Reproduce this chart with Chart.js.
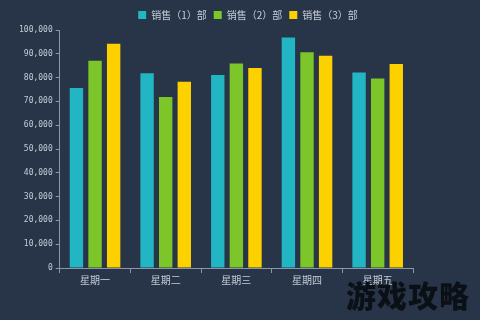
<!DOCTYPE html>
<html>
<head>
<meta charset="utf-8">
<script src="https://cdn.jsdelivr.net/npm/chart.js@4"></script>
<style>
    html, body { margin: 0; padding: 0; background: #283549; }
    .chart-block { position: relative; width: 480px; height: 320px; }
    .mark {
        position: absolute; left: 346px; top: 272px;
        font-family: "Noto Sans CJK SC"; font-weight: 900; font-size: 30px;
        color: #0b0f16; letter-spacing: 1px;
    }
</style>
</head>
<body>
<div class="chart-block">
    <canvas id="myChart" width="480" height="320"></canvas>
    <div class="mark">游戏攻略</div>
</div>
<script>
const days = ['星期一', '星期二', '星期三', '星期四', '星期五'];
const sales1 = [75600, 81800, 81100, 96900, 82100];
const sales2 = [87100, 71900, 85900, 90700, 79600];
const sales3 = [94200, 78300, 84000, 89200, 85700];
const yTicks = [0, 10000, 20000, 30000, 40000, 50000, 60000, 70000, 80000, 90000, 100000];

const ctx = document.getElementById('myChart').getContext('2d');
const axisColor = '#8b97a8';
const labelColor = '#c4ccd6';

const bar = (label, data, color) => ({
    label: label,
    data: data,
    backgroundColor: color,
    categoryPercentage: 0.79,
    barPercentage: 0.72
});

new Chart(ctx, {
    type: 'bar',
    data: {
        labels: days,
        datasets: [
            bar('销售（1）部', sales1, '#22b5c4'),
            bar('销售（2）部', sales2, '#7dc62a'),
            bar('销售（3）部', sales3, '#fdd000')
        ]
    },
    options: {
        responsive: false,
        animation: false,
        layout: {padding: {left: 16, right: 0, top: 3, bottom: 33}},
        scales: {
            x: {
                grid: {display: true, drawOnChartArea: false, tickLength: 5, tickColor: axisColor, offset: true},
                border: {color: axisColor, width: 1},
                ticks: {color: labelColor, font: {family: 'Noto Sans CJK SC', size: 10}, padding: 1}
            },
            y: {
                min: 0,
                max: 100000,
                afterBuildTicks: (axis) => { axis.ticks = yTicks.map(v => ({value: v})); },
                grid: {display: true, drawOnChartArea: false, tickLength: 4, tickColor: axisColor},
                border: {color: axisColor, width: 1},
                ticks: {
                    color: labelColor,
                    font: {family: 'DejaVu Sans Mono', size: 8},
                    padding: 3,
                    callback: (v) => v.toLocaleString('en-US')
                }
            },
            // empty right-hand space, keeps the legend centred on the whole width
            spacer: {
                type: 'linear',
                position: 'right',
                grid: {display: false},
                border: {display: false},
                ticks: {display: false},
                afterFit: (s) => { s.width = 67; }
            }
        },
        plugins: {
            legend: {
                labels: {
                    color: labelColor,
                    boxWidth: 8,
                    boxHeight: 8,
                    padding: 7,
                    font: {family: 'Noto Sans CJK SC', size: 10}
                }
            },
            tooltip: {enabled: false}
        }
    }
});
</script>
</body>
</html>
